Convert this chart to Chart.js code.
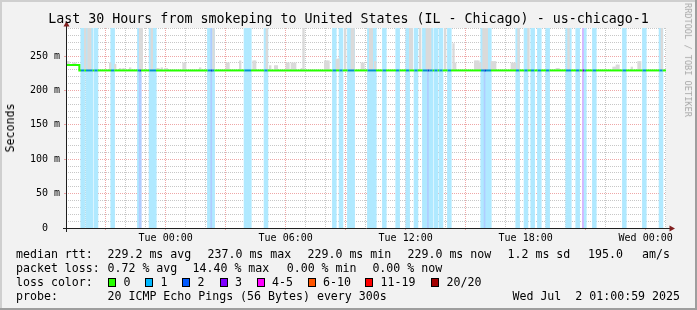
<!DOCTYPE html>
<html><head><meta charset="utf-8"><title>smokeping us-chicago-1</title>
<script src="https://cdn.jsdelivr.net/npm/chart.js@4.4.1/dist/chart.umd.min.js"></script>
<style>
html,body{margin:0;padding:0;background:#f2f2f2;overflow:hidden;}
#wrap{position:relative;width:697px;height:310px;font-family:'DejaVu Sans Mono',monospace;color:#000;}
#c{position:absolute;left:0;top:0;width:697px;height:310px;}
.t{position:absolute;white-space:pre;font-size:11.6px;line-height:14px;}
.box{position:absolute;width:6px;height:7px;border:1px solid #000;}
</style></head>
<body><div id="wrap"><canvas id="c" width="697" height="310"></canvas>
<div class="t" style="left:0;top:11px;width:697px;text-align:center;font-size:13.3px;line-height:16px;">Last 30 Hours from smokeping to United States (IL - Chicago) - us-chicago-1</div>
<div class="t" style="left:10px;top:128px;transform:translate(-50%,-50%) rotate(-90deg);">Seconds</div>
<div class="t" style="left:688px;top:60px;font-size:8.6px;line-height:10px;color:#a9a9a9;transform:translate(-50%,-50%) rotate(90deg);">RRDTOOL / TOBI OETIKER</div>
<div id="legend"></div>
</div>
<script>
// ---------- data ----------
const periodHours = 30;
const stepMinutes = 5;
const startHour = -(4 + 59/60 + 1/3600);      // Mon 19:00:59 relative to Tue 00:00
const tickHours  = [0, 6, 12, 18, 24];
const tickLabels = ['Tue 00:00', 'Tue 06:00', 'Tue 12:00', 'Tue 18:00', 'Wed 00:00'];
const yMax = 290.7;
const yTickValues = [0, 50, 100, 150, 200, 250];
const yTickLabels = ['0', '50 m', '100 m', '150 m', '200 m', '250 m'];

// median rtt (ms) as runs: starting step -> value
const medianRunStart = [0, 8];
const medianRunMs    = [237.0, 229.0];

// packet loss (pings lost of 20) per 5-minute step
const lossSteps = [9,10,12,13,14,15,17,18,27,28,43,44,50,51,52,53,85,86,87,88,107,108,109,110,119,120,
  160,161,164,165,169,170,171,172,181,182,183,184,185,190,191,198,199,204,205,209,210,214,215,216,217,218,219,
  221,222,224,225,229,230,249,250,251,252,253,254,270,271,275,276,279,280,283,284,288,289,300,301,302,
  306,307,310,311,316,317,334,335,346,347,356,357];
const lossLevels = [1,1,1,1,1,1,1,1,1,1,1,2,1,1,1,1,1,1,2,1,1,1,1,1,1,1,
  1,1,1,1,1,1,1,1,1,1,1,1,1,1,1,1,1,1,1,1,1,1,1,1,2,1,1,
  1,1,1,1,1,1,1,1,2,1,1,1,1,1,1,1,1,1,1,1,1,1,1,1,
  1,1,1,3,1,1,1,1,1,1,1,1];

// smoke: highest rtt (ms) seen in a step, where it rises above the median
const smokeSteps = [0,1,4,5,11,13,14,26,29,32,34,38,44,45,51,54,55,57,59,60,70,71,80,88,96,97,104,112,113,120,
  122,125,126,132,133,135,136,137,141,142,155,156,157,162,163,167,171,172,177,178,182,183,185,206,207,212,
  216,217,218,227,232,233,245,246,247,248,250,251,252,255,256,257,267,268,269,271,277,294,295,301,
  328,329,330,331,339,343,344,357];
const smokeTops = [242,242,240,240,300,300,300,240,238,232,232,233,300,300,300,232,232,233,232,232,240,240,233,300,240,240,243,243,243,300,
  236,236,236,240,240,240,240,240,232,300,243,243,243,245,246,300,300,300,240,240,300,300,242,300,300,300,
  300,300,300,300,268,240,243,243,243,240,300,300,300,242,242,242,240,240,240,300,300,232,232,300,
  234,234,237,237,234,242,242,300];

const lossColors = ['#26ff00','#00b8ff','#0059ff','#7e00ff','#ff00ff','#ff5500','#ff0000','#a10000'];
const lossNames  = ['0','1','2','3','4-5','6-10','11-19','20/20'];

// ---------- build series ----------
const stepHours = stepMinutes / 60;
const nSteps = Math.round(periodHours / stepHours);
const endHour = startHour + periodHours;
function medianAt(i){ let v = medianRunMs[0]; for (let k=0;k<medianRunStart.length;k++){ if (i>=medianRunStart[k]) v = medianRunMs[k]; } return v; }
const lvlAt = new Array(nSteps).fill(0);
lossSteps.forEach((s,k)=>{ lvlAt[s] = lossLevels[k]; });
const medianPts = [];
for (let i=0;i<=nSteps;i++) medianPts.push({x: startHour + i*stepHours, y: medianAt(Math.min(i, nSteps-1))});
const lossData  = lossSteps.map(s=>({x: startHour + (s+0.5)*stepHours, y: [0, yMax]}));
const smokeData = smokeSteps.map((s,k)=>({x: startHour + (s+0.5)*stepHours, y: [medianAt(s), smokeTops[k]]}));

// colour helpers (style only)
function mix(hex, a, base){ const n=parseInt(String(hex).slice(1),16);
  const m = v => Math.round(base - a*(base-v));
  return `rgb(${m(n>>16&255)},${m(n>>8&255)},${m(n&255)})`; }
const GRID = 'rgba(143,143,143,0.5)';
const MGRID = 'rgba(222,79,79,0.5)';
const FONT = {family:'DejaVu Sans Mono', size:10};
function lossBg(c){ const l = (c && typeof c.dataIndex === 'number') ? lossLevels[c.dataIndex] : 1; return mix(lossColors[l] || lossColors[1], 0.31, 255); }
function lineColor(c){ const i = Math.min(c.p0DataIndex, nSteps-1); const l = lvlAt[i];
  return l === 0 ? lossColors[0] : mix(lossColors[l] || lossColors[1], 0.8, 0); }

const framePlugin = {
  id:'frame',
  beforeDraw(chart){
    const {ctx, width:W, height:H, chartArea:a} = chart;
    ctx.save();
    ctx.fillStyle='#f2f2f2'; ctx.fillRect(0,0,W,H);
    ctx.fillStyle='#cfcfcf'; ctx.fillRect(0,0,W,2); ctx.fillRect(0,0,2,H);
    ctx.fillStyle='#9e9e9e'; ctx.fillRect(0,H-2,W,2); ctx.fillRect(W-2,0,2,H);
    ctx.fillStyle='#ffffff'; ctx.fillRect(a.left, a.top, a.right-a.left, a.bottom-a.top);
    ctx.restore();
  },
  afterDraw(chart){
    const {ctx, chartArea:a} = chart;
    const x0 = Math.round(a.left)+0.5, y0 = Math.round(a.bottom)+0.5;
    ctx.save();
    ctx.strokeStyle='#1f1f1f'; ctx.lineWidth=1;
    ctx.beginPath();
    ctx.moveTo(a.left-3, y0); ctx.lineTo(a.right+4, y0);
    ctx.moveTo(x0, a.bottom+4); ctx.lineTo(x0, a.top-4);
    ctx.stroke();
    ctx.fillStyle='#801f1f';
    ctx.beginPath(); ctx.moveTo(x0, a.top-7); ctx.lineTo(x0-3, a.top-1.5); ctx.lineTo(x0+3, a.top-1.5); ctx.closePath(); ctx.fill();
    ctx.beginPath(); ctx.moveTo(a.right+9, y0); ctx.lineTo(a.right+3.5, y0-3); ctx.lineTo(a.right+3.5, y0+3); ctx.closePath(); ctx.fill();
    ctx.restore();
  }
};

new Chart(document.getElementById('c'), {
  type:'line',
  data:{datasets:[
    {type:'line', label:'median rtt', data: medianPts, stepped:true, borderWidth:2, pointRadius:0,
     borderColor: lossColors[0], borderCapStyle:'butt',
     segment:{borderColor: lineColor}, order:0},
    {type:'bar', label:'smoke', data: smokeData, backgroundColor:'#dadada', grouped:false,
     barPercentage:1, categoryPercentage:1, inflateAmount:0.35, order:1},
    {type:'bar', label:'loss', data: lossData, backgroundColor: lossBg,
     grouped:false, barPercentage:1, categoryPercentage:1, inflateAmount:0.6, order:2}
  ]},
  options:{
    responsive:false, animation:false, devicePixelRatio:1,
    layout:{padding:{top:28, right:31, left:0, bottom:0}},
    plugins:{legend:{display:false}, tooltip:{enabled:false}, title:{display:false}},
    scales:{
      x:{type:'linear', min:startHour, max:endHour, offset:false,
         afterBuildTicks: s => { const t=[]; for (let h=Math.ceil(startHour); h<=endHour; h++) t.push({value:h}); s.ticks=t; },
         afterFit: s => { s.height = 82; },
         grid:{offset:false, color: c => (c.tick && c.tick.value % 3 === 0) ? MGRID : GRID, lineWidth:1, tickLength:2,
               tickColor: c => (c.tick && c.tick.value % 3 === 0) ? MGRID : 'rgba(0,0,0,0)'},
         border:{display:false, dash:[1,1]},
         ticks:{autoSkip:false, maxRotation:0, minRotation:0, padding:2, font:FONT, color:'#000',
                callback: v => { const k = tickHours.indexOf(v); return k<0 ? '' : tickLabels[k]; }}},
      y:{type:'linear', min:0, max:yMax,
         afterBuildTicks: s => { const t=[]; for (let v=0; v<=yMax; v+=10) t.push({value:v}); s.ticks=t; },
         afterFit: s => { s.width = 66; },
         grid:{color: c => (c.tick && c.tick.value % 50 === 0) ? MGRID : GRID, lineWidth:1, tickLength:2,
               tickColor: c => (c.tick && c.tick.value % 50 === 0) ? MGRID : 'rgba(0,0,0,0)'},
         border:{display:false, dash:[1,1]},
         ticks:{autoSkip:false, padding:4, font:FONT, color:'#000',
                callback: v => { const k = yTickValues.indexOf(v); return k<0 ? '' : yTickLabels[k] + (v===0 ? '  ' : ''); }}}
    }
  },
  plugins:[framePlugin]
});

// ---------- legend (text block under the graph) ----------
const L = document.getElementById('legend');
function txt(s, x, y, right){ const d=document.createElement('div'); d.className='t'; d.textContent=s;
  if (right) d.style.right = x+'px'; else d.style.left = x+'px'; d.style.top = y+'px'; L.appendChild(d); }
const rows = [247.3, 261.3, 275.3, 289];
txt('median rtt:', 16, rows[0]);
txt('229.2 ms avg', 107.5, rows[0]); txt('237.0 ms max', 207.5, rows[0]); txt('229.0 ms min', 307.5, rows[0]);
txt('229.0 ms now', 407.5, rows[0]); txt('1.2 ms sd', 507.5, rows[0]); txt('195.0', 588, rows[0]); txt('am/s', 642, rows[0]);
txt('packet loss:', 16, rows[1]);
txt('0.72 % avg', 107.5, rows[1]); txt('14.40 % max', 192.5, rows[1]); txt('0.00 % min', 286.7, rows[1]); txt('0.00 % now', 372.4, rows[1]);
txt('loss color:', 16, rows[2]);
const boxX = [108, 145, 182, 219.5, 256.5, 307.5, 365, 431];
lossNames.forEach((n,k)=>{
  const b=document.createElement('div'); b.className='box'; b.style.left=boxX[k]+'px'; b.style.top='278px';
  b.style.background=lossColors[k]; L.appendChild(b);
  txt(n, boxX[k]+15.5, rows[2]);
});
txt('probe:', 16, rows[3]);
txt('20 ICMP Echo Pings (56 Bytes) every 300s', 107.5, rows[3]);
txt('Wed Jul  2 01:00:59 2025', 17, rows[3], true);
</script>
</body></html>
